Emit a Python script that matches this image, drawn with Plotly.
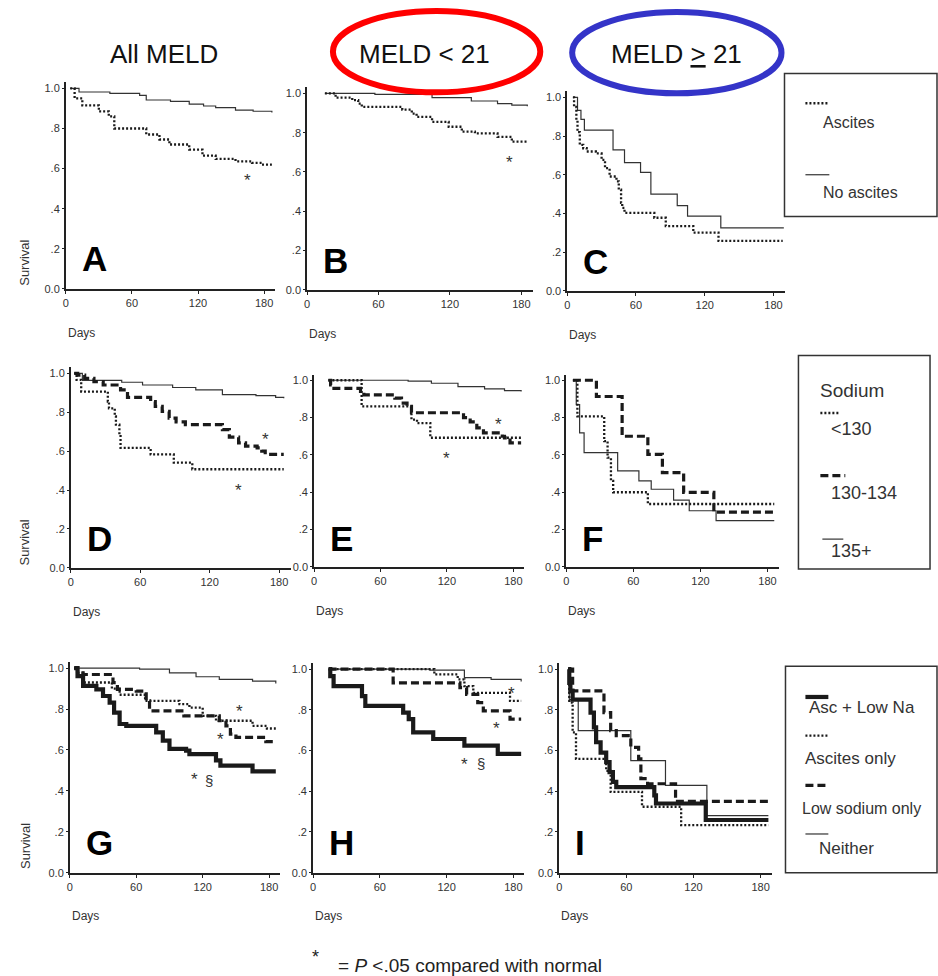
import plotly.graph_objects as go

W, H = 938, 976
XMAX, YMAX = 190, 1.03

# ---------------- Kaplan-Meier steps (day, survival after the step) ----------------
# Row 1: ascites vs no ascites
A_ASC_T = [4, 8, 15, 30, 39, 44, 73, 85, 94, 112, 124, 136, 154, 169, 178, 187]
A_ASC_S = [1.0, 0.95, 0.915, 0.885, 0.86, 0.80, 0.77, 0.745, 0.72, 0.695, 0.665, 0.648, 0.636, 0.628, 0.62, 0.62]
A_NO_T = [4, 12, 40, 67, 73, 95, 112, 125, 136, 154, 170, 187]
A_NO_S = [1.0, 0.982, 0.975, 0.965, 0.942, 0.935, 0.921, 0.912, 0.904, 0.892, 0.886, 0.88]

B_ASC_T = [15, 24, 38, 43, 46, 80, 88, 92, 105, 119, 130, 141, 160, 172, 185]
B_ASC_S = [1.0, 0.978, 0.965, 0.948, 0.931, 0.917, 0.897, 0.88, 0.855, 0.83, 0.805, 0.796, 0.779, 0.754, 0.754]
B_NO_T = [15, 57, 105, 138, 160, 172, 185]
B_NO_S = [1.0, 0.995, 0.978, 0.961, 0.948, 0.94, 0.934]

C_ASC_T = [5, 6, 8, 9, 11, 14, 17, 25, 30, 33, 37, 43, 45, 47, 48, 50, 76, 86, 110, 132, 188]
C_ASC_S = [1.0, 0.95, 0.88, 0.82, 0.754, 0.737, 0.72, 0.71, 0.677, 0.634, 0.591, 0.566, 0.523, 0.455,
           0.429, 0.403, 0.378, 0.335, 0.301, 0.258, 0.258]
C_NO_T = [5, 9, 12, 15, 40, 50, 64, 73, 96, 105, 134, 189]
C_NO_S = [1.0, 0.933, 0.886, 0.83, 0.728, 0.663, 0.612, 0.50, 0.441, 0.386, 0.326, 0.326]

# Row 2: serum sodium groups
D_LT130_T = [3, 5, 9, 32, 33, 38, 39, 42, 43, 69, 89, 105, 184]
D_LT130_S = [1.0, 0.966, 0.906, 0.855, 0.82, 0.779, 0.736, 0.685, 0.617, 0.583, 0.541, 0.507, 0.507]
D_MID_T = [3, 6, 12, 20, 28, 43, 49, 69, 73, 79, 85, 91, 99, 131, 137, 145, 151, 161, 165, 168, 184]
D_MID_S = [1.0, 0.991, 0.974, 0.957, 0.94, 0.915, 0.876, 0.855, 0.83, 0.804, 0.77, 0.75, 0.736, 0.711,
           0.672, 0.643, 0.626, 0.617, 0.60, 0.583, 0.583]
D_HI_T = [3, 10, 44, 62, 88, 108, 131, 160, 177, 184]
D_HI_S = [1.0, 0.964, 0.954, 0.94, 0.927, 0.915, 0.89, 0.885, 0.876, 0.872]

E_LT130_T = [13, 43, 88, 93, 105, 187]
E_LT130_S = [1.0, 0.86, 0.789, 0.77, 0.692, 0.692]
E_MID_T = [13, 15, 18, 42, 45, 73, 79, 84, 88, 135, 141, 147, 153, 170, 172, 177, 187]
E_MID_S = [1.0, 0.975, 0.957, 0.94, 0.922, 0.904, 0.878, 0.86, 0.826, 0.80, 0.777, 0.745, 0.718,
           0.70, 0.691, 0.665, 0.665]
E_HI_T = [13, 85, 106, 130, 154, 172, 187]
E_HI_S = [1.0, 0.995, 0.984, 0.966, 0.954, 0.945, 0.94]

F_LT130_T = [6, 10, 34, 37, 40, 42, 73, 186]
F_LT130_S = [1.0, 0.807, 0.674, 0.585, 0.461, 0.40, 0.337, 0.337]
F_MID_T = [6, 27, 50, 73, 86, 105, 132, 186]
F_MID_S = [1.0, 0.913, 0.70, 0.603, 0.505, 0.399, 0.293, 0.293]
F_HI_T = [6, 9, 12, 16, 46, 65, 76, 96, 110, 134, 186]
F_HI_S = [1.0, 0.869, 0.718, 0.612, 0.514, 0.461, 0.416, 0.358, 0.301, 0.248, 0.248]

# Row 3: ascites and low sodium combined
G_BOTH_T = [4, 7, 12, 24, 30, 36, 40, 45, 51, 78, 84, 90, 105, 108, 132, 136, 165, 186]
G_BOTH_S = [1.0, 0.961, 0.913, 0.896, 0.864, 0.832, 0.783, 0.727, 0.718, 0.686, 0.646, 0.605,
            0.597, 0.58, 0.549, 0.524, 0.495, 0.495]
G_ASC_T = [4, 7, 12, 38, 45, 68, 99, 108, 120, 132, 165, 178, 186]
G_ASC_S = [1.0, 0.977, 0.93, 0.90, 0.87, 0.84, 0.824, 0.807, 0.767, 0.743, 0.718, 0.705, 0.705]
G_NA_T = [4, 7, 12, 39, 43, 60, 69, 72, 103, 135, 141, 145, 150, 177, 186]
G_NA_S = [1.0, 0.985, 0.969, 0.929, 0.896, 0.888, 0.84, 0.791, 0.767, 0.743, 0.718, 0.678, 0.662,
          0.641, 0.641]
G_NEI_T = [4, 63, 90, 114, 135, 165, 186]
G_NEI_S = [1.0, 0.995, 0.977, 0.958, 0.945, 0.937, 0.925]

H_BOTH_T = [14, 15.5, 18.5, 44, 47, 81, 86, 90, 108, 136, 166, 187]
H_BOTH_S = [1.0, 0.966, 0.917, 0.868, 0.82, 0.787, 0.755, 0.689, 0.657, 0.624, 0.584, 0.584]
H_ASC_T = [14, 109, 130, 136, 144, 177, 187]
H_ASC_S = [1.0, 0.974, 0.95, 0.917, 0.884, 0.844, 0.844]
H_NA_T = [14, 72, 132, 138, 148, 153, 177, 187]
H_NA_S = [1.0, 0.933, 0.909, 0.876, 0.836, 0.795, 0.755, 0.755]
H_NEI_T = [14, 105, 136, 160, 187]
H_NEI_S = [1.0, 0.995, 0.958, 0.95, 0.939]

I_BOTH_T = [8, 9, 10, 12, 28, 31, 33, 37, 42, 45, 48, 51, 85, 86.5, 131, 187]
I_BOTH_S = [1.0, 0.933, 0.893, 0.85, 0.787, 0.714, 0.641, 0.59, 0.543, 0.494, 0.446, 0.42, 0.38,
            0.34, 0.259, 0.259]
I_ASC_T = [8, 9, 12, 15, 42, 46, 74, 109, 187]
I_ASC_S = [1.0, 0.836, 0.689, 0.559, 0.5, 0.397, 0.324, 0.234, 0.234]
I_NA_T = [8, 12, 40, 46, 51, 64, 71, 73, 79, 104, 187]
I_NA_S = [1.0, 0.893, 0.787, 0.698, 0.674, 0.616, 0.559, 0.462, 0.437, 0.35, 0.35]
I_NEI_T = [8, 9, 17, 64, 95, 132, 187]
I_NEI_S = [1.0, 0.85, 0.698, 0.551, 0.429, 0.28, 0.28]

# Significance marks: (day, survival, text)
MARKS_A = [(164.5, 0.56, "*")]
MARKS_B = [(170, 0.667, "*")]
MARKS_D = [(168, 0.68, "*"), (145, 0.42, "*")]
MARKS_E = [(166.5, 0.787, "*"), (120, 0.60, "*")]
MARKS_G = [(153, 0.806, "*"), (136, 0.67, "*"), (112.5, 0.476, "*"), (126, 0.45, "§")]
MARKS_H = [(178, 0.90, "*"), (165, 0.73, "*"), (136, 0.55, "*"), (151, 0.537, "§")]

X_TICKS = [0, 60, 120, 180]
X_LABELS = ["0", "60", "120", "180"]
Y_TICKS = [0.0, 0.2, 0.4, 0.6, 0.8, 1.0]
Y_LABELS = ["0.0", ".2", ".4", ".6", ".8", "1.0"]

COLUMN_TITLES = ["All MELD", "MELD &lt; 21", "MELD <u>&gt;</u> 21"]

# ---------------- line styles ----------------
INK = "#1a1a1a"
STY = {
    "thin": dict(color="#333333", width=1.2, dash="solid"),
    "dot": dict(color=INK, width=2.3, dash="2px,2px"),
    "dash": dict(color=INK, width=3.2, dash="8px,4px"),
    "thick": dict(color=INK, width=4.2, dash="solid"),
}

# panel: (letter, pixel x of day 0, pixel x of day 180, pixel y of 1.0, pixel y of 0.0, curves, marks)
PANELS = [
    ("A", 63, 262, 88, 290, [(A_NO_T, A_NO_S, "thin"), (A_ASC_T, A_ASC_S, "dot")], MARKS_A),
    ("B", 305, 520, 93, 291, [(B_NO_T, B_NO_S, "thin"), (B_ASC_T, B_ASC_S, "dot")], MARKS_B),
    ("C", 566, 773, 97, 292, [(C_NO_T, C_NO_S, "thin"), (C_ASC_T, C_ASC_S, "dot")], []),
    ("D", 68, 277, 375, 571, [(D_HI_T, D_HI_S, "thin"), (D_MID_T, D_MID_S, "dash"),
                              (D_LT130_T, D_LT130_S, "dot")], MARKS_D),
    ("E", 312, 512, 382, 570, [(E_HI_T, E_HI_S, "thin"), (E_MID_T, E_MID_S, "dash"),
                               (E_LT130_T, E_LT130_S, "dot")], MARKS_E),
    ("F", 565, 767, 382, 570, [(F_HI_T, F_HI_S, "thin"), (F_MID_T, F_MID_S, "dash"),
                               (F_LT130_T, F_LT130_S, "dot")], []),
    ("G", 67, 267, 672, 878, [(G_NEI_T, G_NEI_S, "thin"), (G_ASC_T, G_ASC_S, "dot"),
                              (G_NA_T, G_NA_S, "dash"), (G_BOTH_T, G_BOTH_S, "thick")], MARKS_G),
    ("H", 311, 512, 673, 878, [(H_NEI_T, H_NEI_S, "thin"), (H_ASC_T, H_ASC_S, "dot"),
                               (H_NA_T, H_NA_S, "dash"), (H_BOTH_T, H_BOTH_S, "thick")], MARKS_H),
    ("I", 558, 760, 673, 878, [(I_NEI_T, I_NEI_S, "thin"), (I_ASC_T, I_ASC_S, "dot"),
                               (I_NA_T, I_NA_S, "dash"), (I_BOTH_T, I_BOTH_S, "thick")], []),
]

FONT = "Liberation Sans, Arial, sans-serif"


def px(x):
    return x / W


def py(y):
    return 1 - y / H


fig = go.Figure()
layout = dict(
    width=W, height=H, margin=dict(l=0, r=0, t=0, b=0),
    paper_bgcolor="white", plot_bgcolor="white", showlegend=False,
    font=dict(family=FONT, color="#222"),
)
annotations = []
shapes = []

for i, (letter, d0, d180, y1, y0, curves, marks) in enumerate(PANELS, start=1):
    ppd = (d180 - d0) / 180.0
    ppu = y0 - y1
    xa, ya = f"x{i}", f"y{i}"
    layout[f"xaxis{i}"] = dict(
        domain=[px(d0), px(d0 + XMAX * ppd)], range=[0, XMAX], anchor=ya,
        showline=True, linecolor="#222", linewidth=1.6, mirror=False,
        ticks="outside", ticklen=3, tickwidth=1, tickcolor="#222",
        tickvals=X_TICKS, ticktext=X_LABELS, tickfont=dict(size=11, color="#333"),
        showgrid=False, zeroline=False, fixedrange=True,
    )
    layout[f"yaxis{i}"] = dict(
        domain=[py(y0), py(y0 - YMAX * ppu)], range=[0, YMAX], anchor=xa,
        showline=True, linecolor="#222", linewidth=1.6,
        ticks="outside", ticklen=2, tickwidth=1, tickcolor="#222",
        tickvals=Y_TICKS, ticktext=Y_LABELS, tickfont=dict(size=11, color="#333"),
        showgrid=False, zeroline=False, fixedrange=True,
    )
    for t, s, style in curves:
        fig.add_trace(go.Scatter(
            x=t, y=s, xaxis=xa, yaxis=ya, mode="lines",
            line=dict(shape="hv", **STY[style]), hoverinfo="skip",
        ))
    for mx, my, mt in marks:
        annotations.append(dict(
            x=mx, y=my, xref=xa, yref=ya, text=mt, showarrow=False,
            font=dict(size=17 if mt == "*" else 15, color="#333"),
            yshift=-4 if mt == "*" else 0,
        ))
    # panel letter
    annotations.append(dict(
        x=px(d0 + 14), y=py(y0 - 0.15 * ppu), xref="paper", yref="paper",
        text=f"<b>{letter}</b>", showarrow=False, xanchor="left", yanchor="middle",
        font=dict(size=35, color="#000"),
    ))
    # x-axis title
    annotations.append(dict(
        x=px(d0), y=py(y0 + 44), xref="paper", yref="paper", text="Days",
        showarrow=False, xanchor="left", yanchor="middle", font=dict(size=12, color="#333"),
    ))
    if letter in ("A", "D", "G"):
        annotations.append(dict(
            x=px(22), y=py(y0 - 0.13 * ppu), xref="paper", yref="paper", text="Survival",
            showarrow=False, textangle=-90, xanchor="center", yanchor="middle",
            font=dict(size=13, color="#333"),
        ))

# column titles with their ellipses
for cx, title in zip([162, 423, 676], COLUMN_TITLES):
    annotations.append(dict(
        x=px(cx), y=py(53), xref="paper", yref="paper", text=title, showarrow=False,
        xanchor="center", yanchor="middle", font=dict(size=26, color="#111"),
    ))
shapes.append(dict(type="circle", xref="paper", yref="paper",
                   x0=px(331), x1=px(539), y0=py(92), y1=py(10),
                   line=dict(color="#ff0000", width=6)))
shapes.append(dict(type="circle", xref="paper", yref="paper",
                   x0=px(571), x1=px(781), y0=py(93), y1=py(11),
                   line=dict(color="#3434c8", width=6)))

# legend boxes
def box(x0, y0, x1, y1):
    shapes.append(dict(type="rect", xref="paper", yref="paper",
                       x0=px(x0), x1=px(x1), y0=py(y1), y1=py(y0),
                       line=dict(color="#333", width=1.5), fillcolor="rgba(0,0,0,0)"))


def sample(x0, x1, y, style):
    st = STY[style]
    shapes.append(dict(type="line", xref="paper", yref="paper",
                       x0=px(x0), x1=px(x1), y0=py(y), y1=py(y),
                       line=dict(color=st["color"], width=st["width"], dash=st["dash"])))


def label(x, y, text, size):
    annotations.append(dict(x=px(x), y=py(y), xref="paper", yref="paper", text=text,
                            showarrow=False, xanchor="left", yanchor="middle",
                            font=dict(size=size, color="#333")))


box(784, 73, 937, 217)
sample(805, 829, 103, "dot")
label(821, 122, "Ascites", 16)
sample(805, 829, 175, "thin")
label(821, 193, "No ascites", 16)

box(798, 357, 930, 572)
label(818, 392, "Sodium", 19)
sample(820, 840, 415, "dot")
label(829, 431, "&lt;130", 18)
sample(820, 845, 478, "dash")
label(829, 496, "130-134", 18)
sample(822, 843, 542, "thin")
label(829, 554, "135+", 18)

box(785, 670, 937, 878)
sample(805, 828, 701, "thick")
label(807, 712, "Asc + Low Na", 17)
sample(805, 828, 740, "dot")
label(803, 763, "Ascites only", 17)
sample(805, 828, 790, "dash")
label(800, 813, "Low sodium only", 16)
sample(805, 828, 839, "thin")
label(817, 854, "Neither", 17)

# footnote
annotations.append(dict(x=px(314), y=py(963), xref="paper", yref="paper", text="*",
                        showarrow=False, xanchor="center", yanchor="middle",
                        font=dict(size=18, color="#222")))
annotations.append(dict(x=px(334), y=py(971), xref="paper", yref="paper",
                        text="= <i>P</i> &lt;.05 compared with normal", showarrow=False,
                        xanchor="left", yanchor="middle", font=dict(size=19, color="#222")))

layout["annotations"] = annotations
layout["shapes"] = shapes
fig.update_layout(**layout)
fig.write_html("out.html")
